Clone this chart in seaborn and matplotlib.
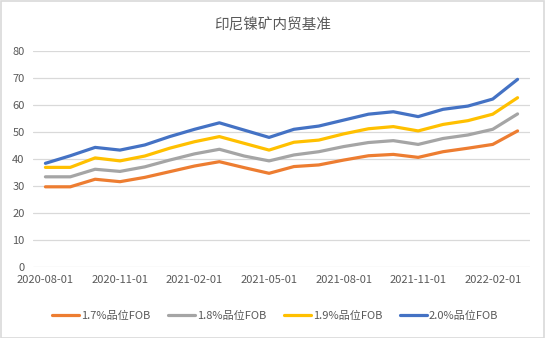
import matplotlib
matplotlib.use("Agg")
import matplotlib.pyplot as plt
import seaborn as sns
import pandas as pd
from matplotlib.patches import Rectangle

# ---- data ----
dates = ["2020-08-01", "2020-09-01", "2020-10-01", "2020-11-01", "2020-12-01",
         "2021-01-01", "2021-02-01", "2021-03-01", "2021-04-01", "2021-05-01",
         "2021-06-01", "2021-07-01", "2021-08-01", "2021-09-01", "2021-10-01",
         "2021-11-01", "2021-12-01", "2022-01-01", "2022-02-01", "2022-03-01"]
grade_17 = [29.7, 29.7, 32.5, 31.6, 33.2, 35.3, 37.4, 39.0, 36.8, 34.7,
            37.2, 37.8, 39.6, 41.2, 41.7, 40.6, 42.7, 44.0, 45.4, 50.4]
grade_18 = [33.4, 33.4, 36.2, 35.4, 37.1, 39.6, 41.9, 43.6, 41.1, 39.3,
            41.5, 42.7, 44.6, 46.1, 46.8, 45.4, 47.6, 48.9, 51.0, 56.7]
grade_19 = [36.9, 36.9, 40.4, 39.3, 41.1, 44.0, 46.4, 48.3, 45.8, 43.3,
            46.2, 47.0, 49.3, 51.2, 52.0, 50.4, 52.8, 54.2, 56.6, 62.7]
grade_20 = [38.4, 41.2, 44.3, 43.3, 45.2, 48.3, 51.0, 53.4, 50.7, 48.0,
            51.0, 52.2, 54.4, 56.6, 57.5, 55.7, 58.4, 59.6, 62.2, 69.5]
series_names = ["1.7%品位FOB", "1.8%品位FOB", "1.9%品位FOB", "2.0%品位FOB"]
tick_labels = ["2020-08-01", "2020-11-01", "2021-02-01", "2021-05-01",
               "2021-08-01", "2021-11-01", "2022-02-01"]
title = "印尼镍矿内贸基准"

colors = ["#ED7D31", "#A5A5A5", "#FFC000", "#4472C4"]

# ---- build long table ----
rows = []
for name, vals in zip(series_names, [grade_17, grade_18, grade_19, grade_20]):
    for i, (d, v) in enumerate(zip(dates, vals)):
        rows.append({"idx": i, "date": d, "series": name, "value": v})
df = pd.DataFrame(rows)

sns.set_theme(style="white")
plt.rcParams['font.family'] = ['Noto Sans CJK SC', 'DejaVu Sans']

fig = plt.figure(figsize=(5.45, 3.38), dpi=100)
ax = fig.add_axes([33/545, (338-267)/338, (530-33)/545, (267-51)/338])

sns.lineplot(data=df, x="idx", y="value", hue="series", hue_order=series_names,
             palette=colors, linewidth=2.3, ax=ax, legend=True, zorder=3)

ax.set_ylim(0, 80)
ax.set_yticks(range(0, 81, 10))
ax.set_xlim(-0.5, len(dates) - 0.5)
tick_pos = [dates.index(t) for t in tick_labels]
ax.set_xticks(tick_pos)
ax.set_xticklabels(tick_labels)
ax.yaxis.grid(True, color="#D9D9D9", linewidth=0.9)
ax.xaxis.grid(False)
for s in ax.spines.values():
    s.set_visible(False)
ax.tick_params(axis="both", length=0, labelsize=8, colors="#595959", pad=6)
ax.set_xlabel("")
ax.set_ylabel("")

handles, labels = ax.get_legend_handles_labels()
ax.legend_.remove()
fig.legend(handles, labels, loc="center", bbox_to_anchor=(0.505, 0.065), ncol=4,
           frameon=False, fontsize=8, handlelength=2.4, columnspacing=1.6,
           handletextpad=0.2, labelcolor="#595959")

fig.text(0.5, 1 - 25/338, title, ha="center", va="center", fontsize=10.5, color="#595959")

fig.patches.append(Rectangle((0.001, 0.001), 0.997, 0.997, transform=fig.transFigure,
                             fill=False, edgecolor="#D9D9D9", linewidth=1.2))

fig.savefig("out.png", dpi=100)
